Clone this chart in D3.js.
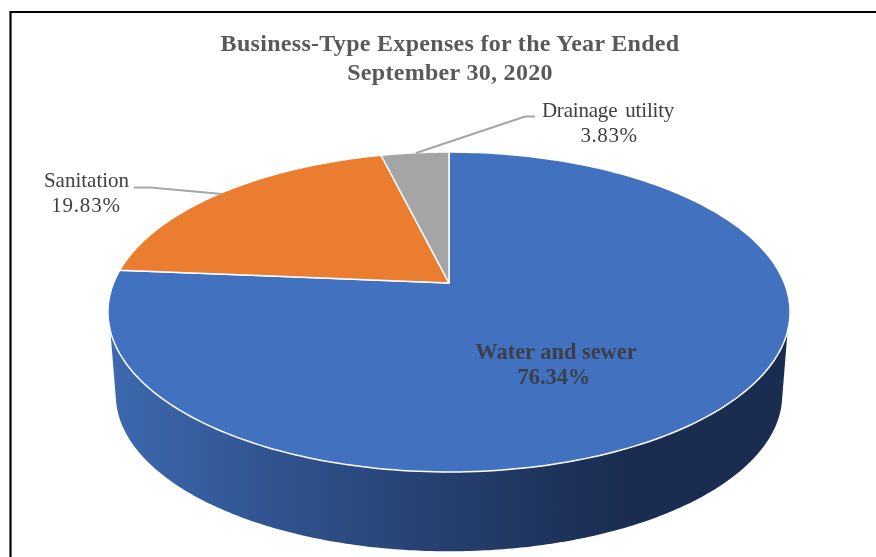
<!DOCTYPE html>
<html><head><meta charset="utf-8">
<script src="https://cdn.jsdelivr.net/npm/d3@7"></script>
<style>html,body{margin:0;padding:0;background:#fff}svg{display:block;filter:blur(.35px)}</style></head>
<body><svg id="c" width="876" height="557"></svg>
<script>
const categories = ["Water and sewer", "Sanitation", "Drainage utility"];
const seriesValues = [76.34, 19.83, 3.83];
const percentLabels = ["76.34%", "19.83%", "3.83%"];
const colors = ["#4271bf", "#eb7d30", "#a5a5a5"];
const titleLines = ["Business-Type Expenses for the Year Ended", "September 30, 2020"];

const svg = d3.select("#c");
const W = 876, H = 557;

// frame
svg.append("path").attr("d", `M${W},12H10.5V${H}`).attr("fill", "none").attr("stroke", "#000").attr("stroke-width", 2.2);

// Perspective disc: unit circle to screen
const K = 0.18125;
function disc(scale, cy) {
  return t => {
    const d = 1 + K * Math.cos(t);
    return [449 + scale * 335.4 * Math.sin(t) / d, cy - scale * 154.7 * Math.cos(t) / d];
  };
}
const topDisc = disc(1, 283);
const botDisc = disc(0.977, 366.7);

const pieGen = d3.pie().sort(null).value(d => d);
const arcs = pieGen(seriesValues);
const line = d3.line();
const samples = (a, b, n = 240) => d3.range(n + 1).map(i => a + (b - a) * i / n);

// wall
const grad = svg.append("defs").append("linearGradient").attr("id", "wall")
  .attr("gradientUnits", "userSpaceOnUse").attr("x1", 108).attr("x2", 790).attr("y1", 0).attr("y2", 0);
[[0, "#3e69b0"], [0.25, "#30538f"], [0.5, "#253f6d"], [0.72, "#1c2f55"], [0.78, "#1a2c4f"], [1, "#1a2c4f"]]
  .forEach(s => grad.append("stop").attr("offset", s[0]).attr("stop-color", s[1]));
// t runs clockwise from the top
const wallPts = samples(1.87, 2 * Math.PI - 1.87).map(topDisc)
  .concat(samples(2 * Math.PI - 1.78, 1.78).map(botDisc));
svg.append("path").attr("d", line(wallPts) + "Z").attr("fill", "url(#wall)");

// top wedges
const apexPt = [449, 283];
svg.selectAll("path.w").data(arcs).join("path").attr("class", "w")
  .attr("d", d => line([apexPt].concat(samples(d.startAngle, d.endAngle).map(topDisc))) + "Z")
  .attr("fill", (d, i) => colors[i])
  .attr("stroke", "#fff").attr("stroke-width", 1.5).attr("stroke-linejoin", "round");

// leaders
const leaders = [
  [[134, 187.5], [150, 187.5], [222, 194]],
  [[535, 116.5], [525, 116.5], [416, 153]]
];
svg.selectAll("path.l").data(leaders).join("path").attr("class", "l")
  .attr("d", d => line(d)).attr("fill", "none").attr("stroke", "#a6a6a6").attr("stroke-width", 2);

// text
const T = (x, y, s, size, fill, bold, ws, ls) => svg.append("text").attr("x", x).attr("y", y).text(s)
  .attr("text-anchor", "middle").attr("font-family", "'Liberation Serif'")
  .attr("font-size", size).attr("fill", fill).attr("font-weight", bold ? 700 : 400)
  .attr("word-spacing", ws || 0).attr("letter-spacing", ls || 0);
T(450, 51, titleLines[0], 24, "#595959", true, 0, 0.3);
T(450, 80, titleLines[1], 24, "#595959", true, 0, 0.3);
T(608, 117, categories[2], 21, "#404040", false, 3, -0.2);
T(609, 141.5, percentLabels[2], 21, "#404040", false, 0, 0.6);
T(86.5, 187, categories[1], 21, "#404040", false);
T(86, 212, percentLabels[1], 21, "#404040", false, 0, 0.8);
T(556, 359, categories[0], 22.4, "#3c3f48", true);
T(554, 384, percentLabels[0], 22.4, "#3c3f48", true);
</script></body></html>
